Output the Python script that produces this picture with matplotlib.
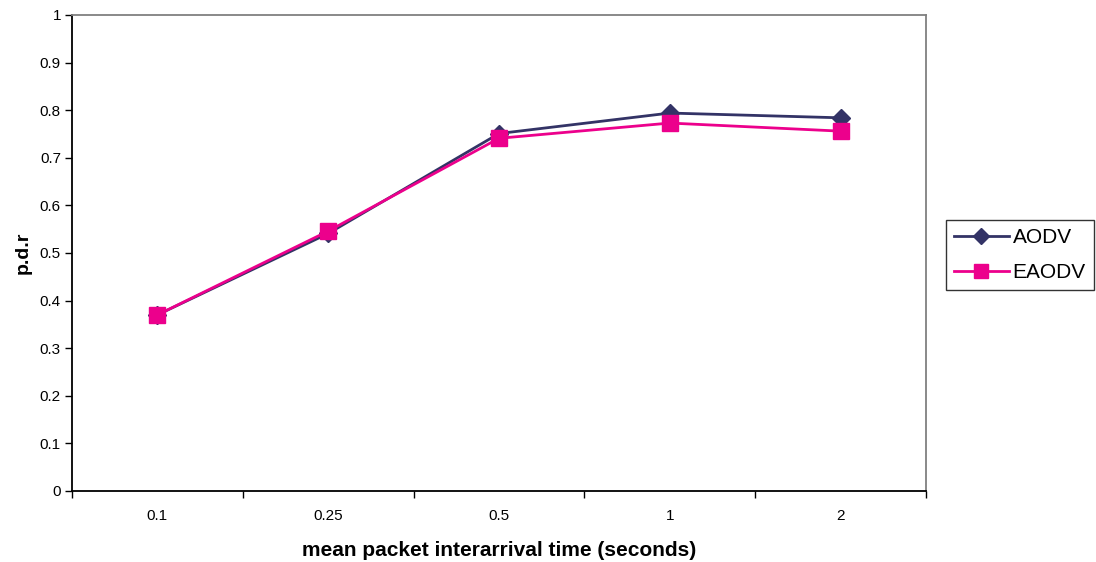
import matplotlib
matplotlib.use("Agg")
import matplotlib.pyplot as plt

plt.rcParams['font.family'] = ['Liberation Sans', 'DejaVu Sans']

categories = ["0.1", "0.25", "0.5", "1", "2"]
aodv = [0.370, 0.541, 0.751, 0.794, 0.784]
eaodv = [0.370, 0.546, 0.741, 0.773, 0.756]
y_ticks = [0, 0.1, 0.2, 0.3, 0.4, 0.5, 0.6, 0.7, 0.8, 0.9, 1]
y_tick_labels = ["0", "0.1", "0.2", "0.3", "0.4", "0.5", "0.6", "0.7", "0.8", "0.9", "1"]

fig = plt.figure(figsize=(10.96, 5.62), dpi=100)
ax = fig.add_axes([72/1096, 71/562, 854/1096, 476/562])

x = list(range(len(categories)))
ax.plot(x, aodv, color="#333366", lw=2, marker="D", ms=9, mfc="#333366", mec="#333366", label="AODV", zorder=3)
ax.plot(x, eaodv, color="#EC008C", lw=2, marker="s", ms=11, mfc="#EC008C", mec="#EC008C", label="EAODV", zorder=4)

ax.set_xlim(-0.5, len(categories) - 0.5)
ax.set_ylim(0, 1)
ax.set_yticks(y_ticks)
ax.set_yticklabels(y_tick_labels)
ax.set_xticks(x)
ax.set_xticklabels(categories)
ax.set_xticks([i - 0.5 for i in range(len(categories) + 1)], minor=True)
ax.tick_params(axis='x', which='major', length=0, pad=13, labelsize=11)
ax.tick_params(axis='x', which='minor', length=5, width=1, direction='out', color='black')
ax.tick_params(axis='y', length=5, width=1, direction='out', labelsize=11, pad=3)

for side in ('left', 'bottom'):
    ax.spines[side].set_color('black')
    ax.spines[side].set_linewidth(1.3)
for side in ('top', 'right'):
    ax.spines[side].set_color('#808080')
    ax.spines[side].set_linewidth(1.3)

ax.set_xlabel("mean packet interarrival time (seconds)", fontsize=15, fontweight='bold', labelpad=13)
ax.set_ylabel("p.d.r", fontsize=14, fontweight='bold', labelpad=6)

leg = ax.legend(loc='upper left', bbox_to_anchor=(946/1096, (562 - 220)/562), bbox_transform=fig.transFigure,
                fontsize=15, frameon=True, fancybox=False, edgecolor='black', handlelength=2.6,
                borderpad=0.4, labelspacing=0.75, handletextpad=0.2, borderaxespad=0, markerscale=0.95)
leg.get_frame().set_linewidth(1)

fig.savefig("out.png", dpi=100)
